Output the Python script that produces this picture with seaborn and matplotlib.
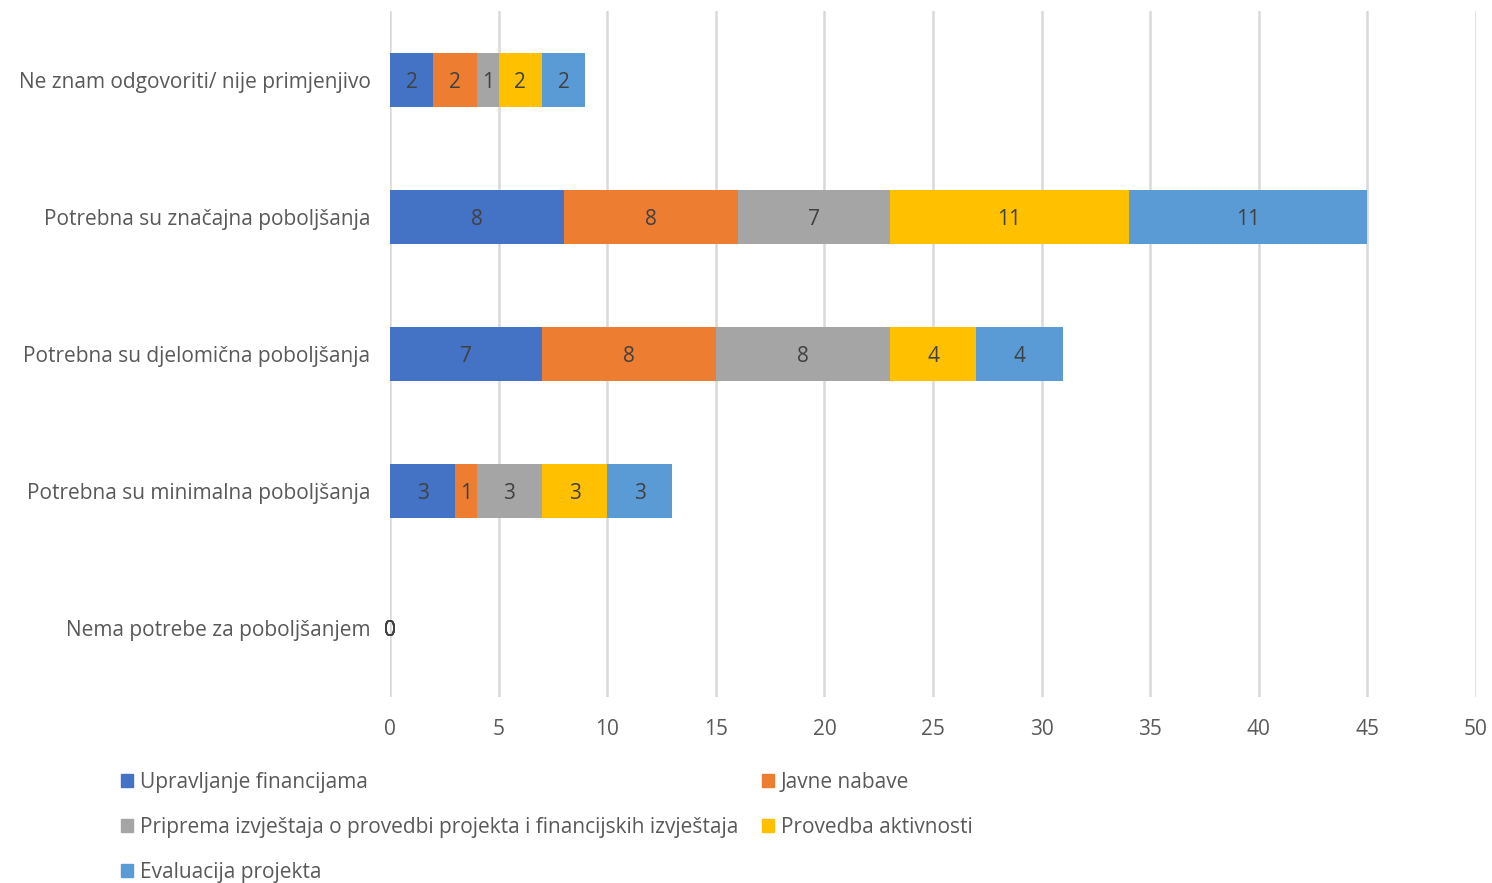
import matplotlib
matplotlib.use("Agg")
import matplotlib.pyplot as plt
import matplotlib.patches as mpatches
import seaborn as sns
import pandas as pd
import numpy as np

categories = [
    "Ne znam odgovoriti/ nije primjenjivo",
    "Potrebna su značajna poboljšanja",
    "Potrebna su djelomična poboljšanja",
    "Potrebna su minimalna poboljšanja",
    "Nema potrebe za poboljšanjem",
]
series_names = [
    "Upravljanje financijama",
    "Javne nabave",
    "Priprema izvještaja o provedbi projekta i financijskih izvještaja",
    "Provedba aktivnosti",
    "Evaluacija projekta",
]
upravljanje = [2, 8, 7, 3, 0]
javne = [2, 8, 8, 1, 0]
priprema = [1, 7, 8, 3, 0]
provedba = [2, 11, 4, 3, 0]
evaluacija = [2, 11, 4, 3, 0]
colors = ["#4472C4", "#ED7D31", "#A5A5A5", "#FFC000", "#5B9BD5"]

sns.set_theme(style="white")
plt.rcParams['font.family'] = ['Open Sans', 'DejaVu Sans']

values = np.array([upravljanje, javne, priprema, provedba, evaluacija], dtype=float)
cum = np.cumsum(values, axis=0)

fig = plt.figure(figsize=(14.92, 8.83), dpi=100)
ax = fig.add_axes([0.2614, 0.2112, 0.9893 - 0.2614, 0.987 - 0.2112])

# draw cumulative totals from last to first so earlier segments overlay
for i in range(len(series_names) - 1, -1, -1):
    df = pd.DataFrame({"cat": categories, "val": cum[i]})
    sns.barplot(data=df, y="cat", x="val", color=colors[i], orient="h",
                width=0.4, ax=ax, saturation=1, order=categories, zorder=3,
                linewidth=0, edgecolor="none")

# labels
for i in range(len(series_names)):
    for j, c in enumerate(categories):
        start = cum[i][j] - values[i][j]
        mid = start + values[i][j] / 2
        ax.text(mid, j, f"{int(values[i][j])}", ha="center", va="center_baseline",
                fontsize=15, color="#404040", zorder=5)

ax.set_xlim(0, 50)
ax.set_ylim(4.5, -0.5)
ax.set_xticks(range(0, 51, 5))
ax.xaxis.grid(True, color="#D9D9D9", linewidth=1.8, zorder=0)
ax.yaxis.grid(False)
ax.set_axisbelow(True)
for s in ax.spines.values():
    s.set_visible(False)
ax.set_xlabel("")
ax.set_ylabel("")
ax.tick_params(axis="x", labelsize=15, labelcolor="#595959", length=0, pad=16)
ax.tick_params(axis="y", labelsize=15, labelcolor="#595959", length=0, pad=14)

order = [0, 2, 4, 1, 3]
handles = [mpatches.Patch(color=colors[i], label=series_names[i]) for i in order]
fig.legend(handles=handles, loc="upper left", bbox_to_anchor=(0.081, 0.1255),
           ncol=2, frameon=False, fontsize=15, labelcolor="#595959",
           handlelength=0.6, handleheight=0.6, handletextpad=0.3,
           columnspacing=1.15, labelspacing=1.15, borderaxespad=0, borderpad=0)

fig.savefig("out.png", dpi=100)
